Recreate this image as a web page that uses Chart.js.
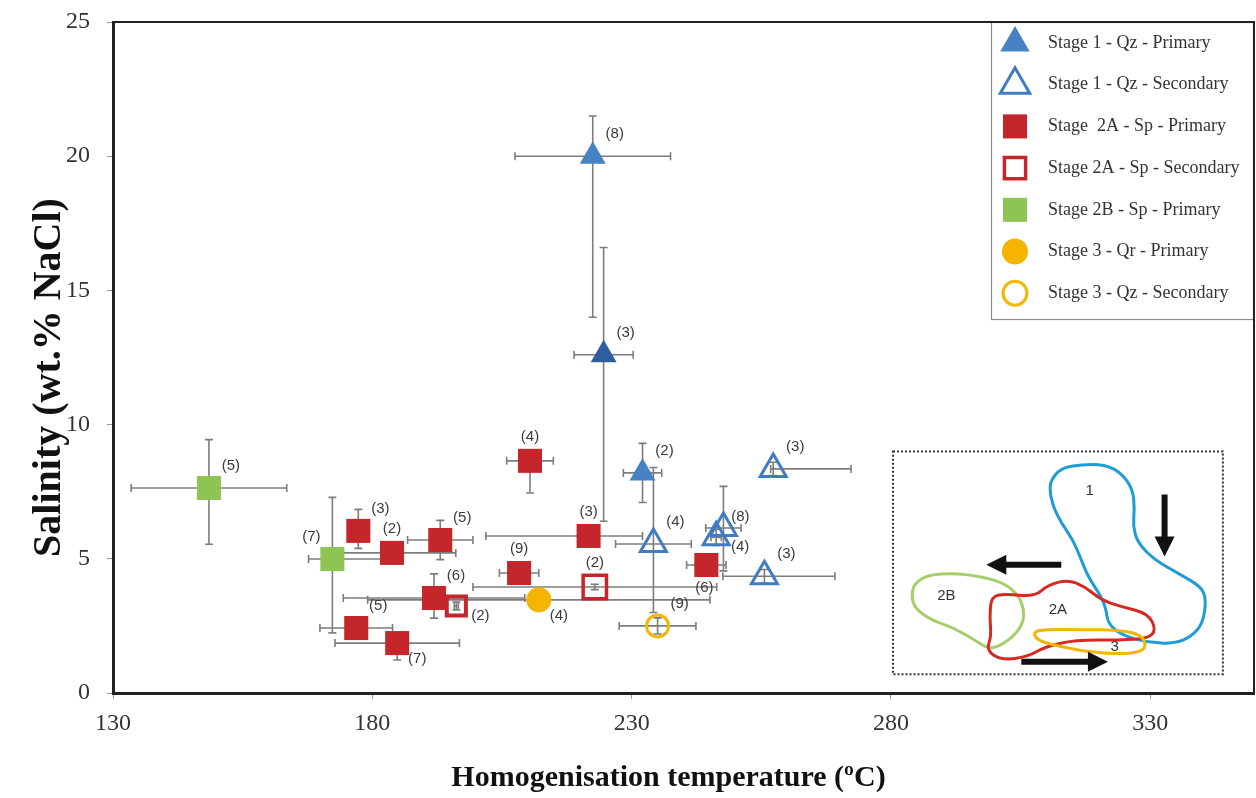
<!DOCTYPE html>
<html>
<head>
<meta charset="utf-8">
<script src="https://cdn.jsdelivr.net/npm/chart.js@4.4.1/dist/chart.umd.min.js"></script>
<style>
  html, body { margin: 0; padding: 0; background: #fff; }
  #wrap { width: 1256px; height: 798px; }
</style>
</head>
<body>
<div id="wrap"><canvas id="fluidChart" width="1256" height="798"></canvas></div>
<script>
// series (legend order)
const seriesNames = [
  'Stage 1 - Qz - Primary',
  'Stage 1 - Qz - Secondary',
  'Stage  2A - Sp - Primary',
  'Stage 2A - Sp - Secondary',
  'Stage 2B - Sp - Primary',
  'Stage 3 - Qr - Primary',
  'Stage 3 - Qz - Secondary'
];

// one entry per plotted point
const pointSeries = [0, 0, 0, 1, 1, 1, 1, 1, 2, 2, 2, 2, 2, 2, 2, 2, 2, 2, 3, 3, 4, 4, 5, 6];
const temperature = [222.5, 224.6, 232.1, 234.2, 247.7, 246.3, 257.3, 255.6, 210.4, 221.7, 208.3, 244.4, 177.3, 183.8, 193.1, 191.9, 176.9, 184.8, 222.9, 196.2, 148.5, 172.3, 212.1, 235.0];
const salinity    = [20.0, 12.6, 8.2, 5.55, 6.15, 5.8, 8.35, 4.35, 8.65, 5.85, 4.47, 4.77, 6.04, 5.22, 5.7, 3.54, 2.42, 1.86, 3.95, 3.24, 7.64, 4.99, 3.47, 2.5];
const tempErrLow  = [15, 5.7, 3.7, 7.3, 3.4, 1.0, 0.5, 8, 4.5, 19.8, 3.8, 3.8, 0.5, 12.3, 6.3, 17.5, 7, 12, 23.5, 0.4, 15, 4.6, 33, 7.4];
const tempErrHigh = [15, 5.7, 3.7, 7.3, 3.4, 1.0, 15, 13.6, 4.5, 10.4, 3.8, 3.8, 0.5, 12.3, 6.3, 17.5, 7, 12, 23.5, 0.4, 15, 11.5, 33, 7.4];
const salErrLow   = [6.0, 6.2, 1.1, 2.55, 1.6, 0.3, 0.25, 0.25, 1.2, 0.3, 0.3, 0.3, 0.65, 0.3, 0.73, 0.75, 0.3, 0.63, 0.1, 0.15, 2.1, 2.75, 0.2, 0.3];
const salErrHigh  = [1.5, 4.0, 1.1, 2.85, 1.55, 0.3, 0.25, 0.25, 0.3, 0.3, 0.3, 0.3, 0.8, 0.3, 0.73, 0.9, 0.3, 0.3, 0.1, 0.15, 1.8, 2.3, 0.2, 0.3];
const inclusionCount = [8, 3, 2, 4, 8, 4, 3, 3, 4, 3, 9, 6, 3, 2, 5, 6, 5, 7, 2, 2, 5, 7, 4, 9];
const labelSide = ['ne', 'ne', 'ne', 'ne', 'ene', 'ese', 'ne', 'ne', 'n', 'n', 'n', 's', 'ne', 'n', 'ne', 'ne', 'ne', 'se', 'n', 'ese', 'ne', 'nw', 'se', 'ne'];

// axes
const xTicks = [130, 180, 230, 280, 330];
const yTicks = [0, 5, 10, 15, 20, 25];

// marker styles per series
const seriesStyle = [
  { pointStyle: 'triangle', radius: 15, fill: ['#4682c4', '#2d5f9f', '#4682c4'], border: '#4682c4', width: 0, legendRadius: 17 },
  { pointStyle: 'triangle', radius: 15, fill: 'rgba(255,255,255,0)', border: '#3f7cc2', width: 3, legendRadius: 17 },
  { pointStyle: 'rect', radius: 17, fill: '#c4262b', border: '#c4262b', width: 0, legendRadius: 17 },
  { pointStyle: 'rect', radius: [16.5, 13.5], fill: 'rgba(255,255,255,0)', border: '#c4262b', width: [3.5, 4], legendRadius: 15 },
  { pointStyle: 'rect', radius: 17, fill: '#8dc453', border: '#8dc453', width: 0, legendRadius: 17 },
  { pointStyle: 'circle', radius: 12.5, fill: '#f5b400', border: '#f5b400', width: 0, legendRadius: 13 },
  { pointStyle: 'circle', radius: 11, fill: 'rgba(255,255,255,0)', border: '#f2b705', width: 3, legendRadius: 12 }
];

const datasets = seriesNames.map((name, s) => {
  const st = seriesStyle[s];
  const data = [];
  pointSeries.forEach((ps, i) => {
    if (ps !== s) return;
    data.push({
      x: temperature[i], y: salinity[i],
      tLo: tempErrLow[i], tHi: tempErrHigh[i],
      sLo: salErrLow[i], sHi: salErrHigh[i],
      n: inclusionCount[i], side: labelSide[i]
    });
  });
  return {
    label: name,
    data: data,
    pointStyle: st.pointStyle,
    pointRadius: st.radius,
    backgroundColor: st.fill,
    borderColor: st.border,
    borderWidth: st.width,
    legendRadius: st.legendRadius
  };
});

// error bars under the markers
const errorBars = {
  id: 'errorBars',
  beforeDatasetsDraw(chart) {
    const { ctx, scales: { x, y } } = chart;
    const cap = 4;
    ctx.save();
    ctx.strokeStyle = '#7d7d7d';
    ctx.lineWidth = 1.6;
    chart.data.datasets.forEach(ds => {
      ds.data.forEach(p => {
        const px = x.getPixelForValue(p.x), py = y.getPixelForValue(p.y);
        const x0 = x.getPixelForValue(p.x - p.tLo), x1 = x.getPixelForValue(p.x + p.tHi);
        const y0 = y.getPixelForValue(p.y - p.sLo), y1 = y.getPixelForValue(p.y + p.sHi);
        ctx.beginPath();
        ctx.moveTo(x0, py); ctx.lineTo(x1, py);
        ctx.moveTo(x0, py - cap); ctx.lineTo(x0, py + cap);
        ctx.moveTo(x1, py - cap); ctx.lineTo(x1, py + cap);
        ctx.moveTo(px, y0); ctx.lineTo(px, y1);
        ctx.moveTo(px - cap, y0); ctx.lineTo(px + cap, y0);
        ctx.moveTo(px - cap, y1); ctx.lineTo(px + cap, y1);
        ctx.stroke();
      });
    });
    ctx.restore();
  }
};

// "(n)" labels
const labelOffset = { ne: [22, -22], n: [0, -24], s: [-2, 23], se: [20, 16], nw: [-21, -22], ene: [17, -11], ese: [24, 10] };
const countLabels = {
  id: 'countLabels',
  afterDatasetsDraw(chart) {
    const { ctx, scales: { x, y } } = chart;
    ctx.save();
    ctx.font = '15px "Liberation Sans", Arial, sans-serif';
    ctx.fillStyle = '#3a3a3a';
    ctx.textAlign = 'center';
    ctx.textBaseline = 'middle';
    chart.data.datasets.forEach(ds => {
      ds.data.forEach(p => {
        const off = labelOffset[p.side];
        ctx.fillText('(' + p.n + ')', x.getPixelForValue(p.x) + off[0], y.getPixelForValue(p.y) + off[1]);
      });
    });
    ctx.restore();
  }
};

// schematic inset (evolution of the fluid fields), box given in axis units
const insetX = [280.4, 344.0];
const insetY = [0.7, 9.0];
const insetShapes = [
  { color: '#1f9bd7', label: '1', at: [605, 125], pts: [[490,90],[520,55],[580,45],[650,45],[700,70],[735,120],[740,180],[735,230],[750,280],[800,330],[870,370],[940,410],[955,450],[945,520],[910,560],[860,580],[780,578],[700,555],[660,520],[655,480],[640,440],[600,380],[580,330],[555,270],[520,220],[495,170],[485,120]] },
  { color: '#a5cf6a', label: '2B', at: [175, 437], pts: [[80,400],[120,375],[200,370],[280,380],[350,400],[395,440],[410,490],[400,530],[370,565],[330,590],[300,595],[260,570],[200,535],[130,510],[80,475],[70,435]] },
  { color: '#d52a22', label: '2A', at: [510, 480], pts: [[310,440],[350,432],[440,440],[480,405],[540,390],[590,410],[640,450],[700,470],[780,490],[805,540],[780,565],[700,570],[560,570],[470,590],[420,620],[340,630],[295,600],[310,560],[305,500]] },
  { color: '#f2b705', label: '3', at: [680, 590], pts: [[440,545],[470,538],[560,538],[700,540],[760,555],[775,585],[760,605],[700,612],[600,605],[520,590],[460,575],[440,560]] }
];
const insetArrows = [[[830,135],[830,320]], [[520,345],[295,345]], [[400,635],[660,635]]];

const inset = {
  id: 'inset',
  afterDatasetsDraw(chart) {
    const { ctx, scales: { x, y } } = chart;
    const L = x.getPixelForValue(insetX[0]), R = x.getPixelForValue(insetX[1]);
    const T = y.getPixelForValue(insetY[1]), B = y.getPixelForValue(insetY[0]);
    const sx = (R - L) / 990, sy = (B - T) / 666;
    const P = q => [L + (q[0] - 15) * sx, T + (q[1] - 6) * sy];
    ctx.save();
    ctx.setLineDash([2, 2]);
    ctx.strokeStyle = '#333';
    ctx.lineWidth = 2;
    ctx.strokeRect(L, T, R - L, B - T);
    ctx.setLineDash([]);
    ctx.lineWidth = 3;
    ctx.lineJoin = 'round';
    insetShapes.forEach(sh => {
      const pts = sh.pts.map(P);
      const n = pts.length;
      ctx.beginPath();
      const m0 = [(pts[n - 1][0] + pts[0][0]) / 2, (pts[n - 1][1] + pts[0][1]) / 2];
      ctx.moveTo(m0[0], m0[1]);
      for (let i = 0; i < n; i++) {
        const a = pts[i], b = pts[(i + 1) % n];
        ctx.quadraticCurveTo(a[0], a[1], (a[0] + b[0]) / 2, (a[1] + b[1]) / 2);
      }
      ctx.closePath();
      ctx.strokeStyle = sh.color;
      ctx.stroke();
    });
    ctx.fillStyle = '#333';
    ctx.font = '15px "Liberation Sans", Arial, sans-serif';
    ctx.textAlign = 'center';
    ctx.textBaseline = 'middle';
    insetShapes.forEach(sh => {
      const p = P(sh.at);
      ctx.fillText(sh.label, p[0], p[1]);
    });
    ctx.fillStyle = '#111';
    insetArrows.forEach(a => {
      const p0 = P(a[0]), p1 = P(a[1]);
      const ang = Math.atan2(p1[1] - p0[1], p1[0] - p0[0]);
      const len = Math.hypot(p1[0] - p0[0], p1[1] - p0[1]);
      ctx.save();
      ctx.translate(p0[0], p0[1]);
      ctx.rotate(ang);
      ctx.beginPath();
      ctx.moveTo(0, -3);
      ctx.lineTo(len - 20, -3);
      ctx.lineTo(len - 20, -10);
      ctx.lineTo(len, 0);
      ctx.lineTo(len - 20, 10);
      ctx.lineTo(len - 20, 3);
      ctx.lineTo(0, 3);
      ctx.closePath();
      ctx.fill();
      ctx.restore();
    });
    ctx.restore();
  }
};

// boxed legend in the top right corner + frame
const boxLegend = {
  id: 'boxLegend',
  afterDraw(chart) {
    const { ctx, chartArea } = chart;
    const w = 263, h = 298;
    const left = chartArea.right - w, top = chartArea.top;
    ctx.save();
    ctx.fillStyle = '#fff';
    ctx.fillRect(left, top, w, h);
    ctx.strokeStyle = '#8c8c8c';
    ctx.lineWidth = 1.2;
    ctx.strokeRect(left + 0.5, top + 0.5, w - 1, h - 1);
    chart.data.datasets.forEach((ds, i) => {
      const cy = top + 21 + i * 41.7;
      const fill = Array.isArray(ds.backgroundColor) ? ds.backgroundColor[0] : ds.backgroundColor;
      const bw = Array.isArray(ds.borderWidth) ? ds.borderWidth[0] : ds.borderWidth;
      ctx.fillStyle = fill;
      ctx.strokeStyle = ds.borderColor;
      ctx.lineWidth = bw;
      Chart.helpers.drawPoint(ctx, { pointStyle: ds.pointStyle, radius: ds.legendRadius, borderWidth: bw, rotation: 0 }, left + 24, cy);
      ctx.fillStyle = '#333';
      ctx.font = '18px "Liberation Serif", "Times New Roman", serif';
      ctx.textAlign = 'left';
      ctx.textBaseline = 'middle';
      ctx.fillText(ds.label, left + 57, cy);
    });
    ctx.strokeStyle = '#222';
    ctx.lineWidth = 2;
    ctx.beginPath();
    ctx.moveTo(chartArea.left, chartArea.top);
    ctx.lineTo(chartArea.right, chartArea.top);
    ctx.lineTo(chartArea.right, chartArea.bottom);
    ctx.stroke();
    ctx.restore();
  }
};

const tickFont = { family: '"Liberation Serif", "Times New Roman", serif', size: 24 };

new Chart(document.getElementById('fluidChart'), {
  type: 'scatter',
  data: { datasets: datasets },
  options: {
    responsive: false,
    animation: false,
    events: [],
    layout: { autoPadding: false, padding: { top: 22, right: 2, left: 0, bottom: 0 } },
    plugins: {
      legend: { display: false },
      tooltip: { enabled: false }
    },
    scales: {
      x: {
        type: 'linear',
        min: 130,
        max: 350,
        afterBuildTicks: scale => { scale.ticks = xTicks.map(v => ({ value: v })); },
        afterFit: scale => { scale.height = 105; },
        grid: { display: true, drawOnChartArea: false, drawTicks: true, tickLength: 6, color: '#999' },
        border: { display: true, color: '#222', width: 3 },
        ticks: { font: tickFont, color: '#333', padding: 10, maxRotation: 0 },
        title: {
          display: true,
          text: 'Homogenisation temperature (ºC)\u2003',
          font: { family: '"Liberation Serif", "Times New Roman", serif', size: 30, weight: 'bold' },
          color: '#111',
          padding: { top: 0, bottom: 2 }
        }
      },
      y: {
        type: 'linear',
        min: 0,
        max: 25,
        afterBuildTicks: scale => { scale.ticks = yTicks.map(v => ({ value: v })); },
        afterFit: scale => { scale.width = 113; scale.paddingTop = 0; scale.paddingBottom = 0; },
        grid: { display: true, drawOnChartArea: false, drawTicks: true, tickLength: 6, color: '#999' },
        border: { display: true, color: '#222', width: 3 },
        ticks: { font: tickFont, color: '#333', padding: 17 },
        title: {
          display: true,
          text: 'Salinity (wt.% NaCl)\u2003',
          font: { family: '"Liberation Serif", "Times New Roman", serif', size: 40, weight: 'bold' },
          color: '#111',
          padding: { top: 26, bottom: 0 }
        }
      }
    }
  },
  plugins: [errorBars, countLabels, inset, boxLegend]
});
</script>
</body>
</html>
